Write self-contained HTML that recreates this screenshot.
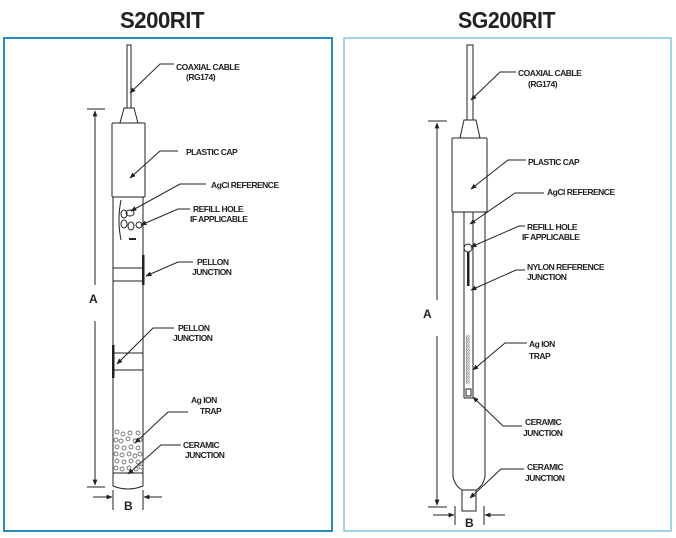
<!DOCTYPE html>
<html><head><meta charset="utf-8"><style>
html,body{margin:0;padding:0;background:#fff;width:676px;height:538px;overflow:hidden}
svg text{font-family:"Liberation Sans",sans-serif}
.l{font-size:8.5px;font-weight:bold;fill:#222;letter-spacing:-0.5px}
.t{font-size:23px;font-weight:bold;fill:#222;letter-spacing:-0.5px}
.s{fill:none;stroke:#222;stroke-width:1}
</style></head><body>
<svg width="676" height="538" viewBox="0 0 676 538" xmlns="http://www.w3.org/2000/svg">
<defs><marker id="a" viewBox="0 0 10 10" refX="9" refY="5" markerWidth="6" markerHeight="6" orient="auto"><path d="M0,1 L10,5 L0,9z" fill="#222"/></marker></defs>
<text class="t" x="120" y="28" textLength="84" lengthAdjust="spacingAndGlyphs">S200RIT</text>
<text class="t" x="458" y="28" textLength="97" lengthAdjust="spacingAndGlyphs">SG200RIT</text>
<rect x="4" y="38" width="328" height="493" fill="none" stroke="#2a8ac4" stroke-width="2"/>
<rect x="344" y="38" width="327" height="493" fill="none" stroke="#86c4de" stroke-width="1.5"/>

<!-- LEFT probe -->
<g class="s">
<rect x="127" y="45" width="4" height="63"/>
<path d="M124,108 L134,108 L138,123 L120,123 Z"/>
<rect x="112" y="123" width="33" height="74" rx="1"/>
<path d="M113,197 L113,486 Q128,492 143,486 L143,197"/>
<line x1="113" y1="268" x2="143" y2="268"/><line x1="113" y1="281" x2="143" y2="281"/>
<line x1="113" y1="353" x2="143" y2="353"/><line x1="113" y1="370" x2="143" y2="370"/>
<line x1="113" y1="473" x2="143" y2="473"/>
<path d="M121,200 Q117,220 121,240"/>
<ellipse cx="130" cy="213" rx="4" ry="3"/><ellipse cx="124" cy="214" rx="3" ry="4"/>
<ellipse cx="124" cy="224" rx="3" ry="4"/><ellipse cx="131" cy="226" rx="3" ry="4"/><circle cx="139" cy="225" r="3"/>
</g>
<rect x="129" y="238" width="7" height="2" fill="#222"/>
<rect x="142" y="255" width="2.5" height="30" fill="#222"/>
<rect x="112" y="345" width="2.5" height="33" fill="#222"/>
<g fill="none" stroke="#444" stroke-width="0.7">
<circle cx="117" cy="432" r="2"/><circle cx="123" cy="434" r="2"/><circle cx="130" cy="433" r="2"/><circle cx="138" cy="433" r="2"/>
<circle cx="116" cy="440" r="2"/><circle cx="121" cy="441" r="2"/><circle cx="128" cy="439" r="2"/><circle cx="135" cy="441" r="2"/><circle cx="140" cy="440" r="2"/>
<circle cx="117" cy="447" r="2"/><circle cx="124" cy="448" r="2"/><circle cx="131" cy="447" r="2"/><circle cx="138" cy="448" r="2"/>
<circle cx="116" cy="454" r="2"/><circle cx="122" cy="455" r="2"/><circle cx="129" cy="454" r="2"/><circle cx="135" cy="456" r="2"/><circle cx="140" cy="454" r="2"/>
<circle cx="117" cy="461" r="2"/><circle cx="124" cy="462" r="2"/><circle cx="131" cy="461" r="2"/><circle cx="138" cy="462" r="2"/>
<circle cx="116" cy="468" r="2"/><circle cx="122" cy="469" r="2"/><circle cx="129" cy="468" r="2"/><circle cx="136" cy="469" r="2"/><circle cx="141" cy="467" r="2"/>
</g>
<!-- left dims -->
<g class="s">
<line x1="87" y1="109" x2="105" y2="109"/><line x1="87" y1="487" x2="105" y2="487"/>
<line x1="95" y1="285" x2="95" y2="111" marker-end="url(#a)"/>
<line x1="95" y1="321" x2="95" y2="485" marker-end="url(#a)"/>
<line x1="113" y1="490" x2="113" y2="510"/><line x1="143" y1="490" x2="143" y2="510"/>
<line x1="93" y1="497" x2="112" y2="497" marker-end="url(#a)"/>
<line x1="162" y1="497" x2="144" y2="497" marker-end="url(#a)"/>
</g>
<text class="l" x="89" y="303" style="font-size:12px">A</text>
<text class="l" x="124" y="510" style="font-size:12px">B</text>
<!-- left leaders -->
<g class="s">
<polyline points="174,64 160,64 130,93" marker-end="url(#a)"/>
<polyline points="178,151 160,151 130,178" marker-end="url(#a)"/>
<polyline points="206,184 180,184 131,211" marker-end="url(#a)"/>
<polyline points="190,209 178,209 141,225" marker-end="url(#a)"/>
<polyline points="193,262 178,262 146,276" marker-end="url(#a)"/>
<polyline points="174,328 153,328 117,364" marker-end="url(#a)"/>
<polyline points="188,412 168,412 135,443" marker-end="url(#a)"/>
<polyline points="181,445 161,445 128,474" marker-end="url(#a)"/>
</g>
<text class="l" x="176" y="70">COAXIAL CABLE</text><text class="l" x="186" y="80">(RG174)</text>
<text class="l" x="186" y="155">PLASTIC CAP</text>
<text class="l" x="211" y="188">AgCl REFERENCE</text>
<text class="l" x="193" y="212">REFILL HOLE</text><text class="l" x="190" y="222">IF APPLICABLE</text>
<text class="l" x="197" y="265">PELLON</text><text class="l" x="192" y="275">JUNCTION</text>
<text class="l" x="178" y="331">PELLON</text><text class="l" x="173" y="341">JUNCTION</text>
<text class="l" x="191" y="403">Ag ION</text><text class="l" x="200" y="414">TRAP</text>
<text class="l" x="183" y="448">CERAMIC</text><text class="l" x="185" y="458">JUNCTION</text>

<!-- RIGHT probe -->
<g class="s">
<rect x="467" y="45" width="6" height="75"/>
<path d="M464,120 L476,120 L480,138 L460,138 Z"/>
<rect x="452" y="138" width="35" height="74" rx="1"/>
<path d="M453,212 L453,477 Q455,486 462,490 M485,212 L485,477 Q483,486 476,490"/>
<rect x="462" y="490" width="14" height="21"/>
<line x1="464" y1="212" x2="464" y2="398"/><line x1="473" y1="212" x2="473" y2="398"/>
<line x1="464" y1="398" x2="473" y2="398"/>
<circle cx="468" cy="248" r="4"/>
<rect x="466" y="389" width="5" height="7"/>
</g>
<rect x="467" y="252" width="2.5" height="34" fill="#222"/>
<text x="0" y="0" transform="translate(466,335) rotate(90)" style="font-size:6px;fill:#555;letter-spacing:-0.3px">ssssssssssssssssss</text>
<!-- right dims -->
<g class="s">
<line x1="428" y1="121" x2="447" y2="121"/><line x1="428" y1="507" x2="447" y2="507"/>
<line x1="437" y1="300" x2="437" y2="123" marker-end="url(#a)"/>
<line x1="437" y1="336" x2="437" y2="505" marker-end="url(#a)"/>
<line x1="455" y1="506" x2="455" y2="525"/><line x1="484" y1="506" x2="484" y2="525"/>
<line x1="433" y1="515" x2="454" y2="515" marker-end="url(#a)"/>
<line x1="505" y1="515" x2="485" y2="515" marker-end="url(#a)"/>
</g>
<text class="l" x="423" y="318" style="font-size:12px">A</text>
<text class="l" x="465" y="527" style="font-size:12px">B</text>
<g class="s">
<polyline points="516,72 500,72 471,100" marker-end="url(#a)"/>
<polyline points="526,160 508,160 471,189" marker-end="url(#a)"/>
<polyline points="544,193 515,193 470,224" marker-end="url(#a)"/>
<polyline points="525,226 519,226 471,247" marker-end="url(#a)"/>
<polyline points="525,270 516,270 471,290" marker-end="url(#a)"/>
<polyline points="527,343 505,343 473,370" marker-end="url(#a)"/>
<polyline points="522,426 503,426 473,397" marker-end="url(#a)"/>
<polyline points="524,469 501,469 470,498" marker-end="url(#a)"/>
</g>
<text class="l" x="518" y="76">COAXIAL CABLE</text><text class="l" x="528" y="87">(RG174)</text>
<text class="l" x="528" y="165">PLASTIC CAP</text>
<text class="l" x="547" y="195">AgCl REFERENCE</text>
<text class="l" x="527" y="230">REFILL HOLE</text><text class="l" x="522" y="240">IF APPLICABLE</text>
<text class="l" x="527" y="270">NYLON REFERENCE</text><text class="l" x="527" y="280">JUNCTION</text>
<text class="l" x="529" y="347">Ag ION</text><text class="l" x="529" y="359">TRAP</text>
<text class="l" x="525" y="425">CERAMIC</text><text class="l" x="523" y="436">JUNCTION</text>
<text class="l" x="527" y="470">CERAMIC</text><text class="l" x="525" y="481">JUNCTION</text>
</svg>
</body></html>
